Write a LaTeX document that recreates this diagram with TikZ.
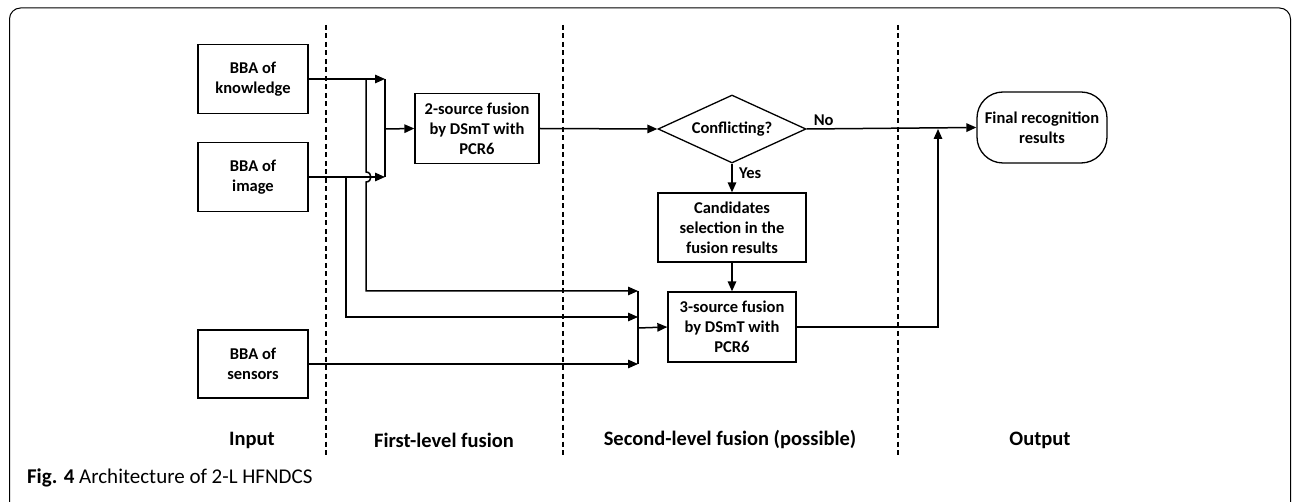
\documentclass[tikz,border=0pt]{standalone}
\usepackage{fontspec}
\setmainfont{Carlito}
\usetikzlibrary{arrows.meta,shapes.geometric}
\begin{document}
\begin{tikzpicture}[x=1pt,y=-1pt,
  line width=1.5pt,
  >={Triangle[length=10pt,width=8.5pt]},
  box/.style={draw,line width=1.3pt,align=center,font=\fontsize{16.5}{20}\selectfont\bfseries,inner sep=0pt},
  sep/.style={line width=1.2pt,dash pattern=on 5pt off 3.5pt},
  lbl/.style={font=\fontsize{20.5}{24}\selectfont\bfseries},
  small/.style={font=\fontsize{16.5}{18}\selectfont\bfseries}]
\useasboundingbox (0,0) rectangle (1292,502);
% frame
\draw[line width=1pt,rounded corners=11pt] (9.5,510) -- (9.5,8) -- (1290.5,8) -- (1290.5,510);
% separators
\draw[sep] (326,25) -- (326,457);
\draw[sep] (563,25) -- (563,457);
\draw[sep] (898,25) -- (898,457);
% boxes
\node[box,minimum width=110pt,minimum height=69pt] (kn) at (253,79) {BBA of\\knowledge};
\node[box,minimum width=110pt,minimum height=69pt] (im) at (253,177) {BBA of\\image};
\node[box,minimum width=110pt,minimum height=68pt] (se) at (253,364) {BBA of\\sensors};
\node[box,minimum width=124pt,minimum height=70pt] (two) at (477,128.5) {2-source fusion\\by DSmT with\\PCR6};
\node[draw,line width=1.3pt,diamond,aspect=2.18,minimum width=148pt,minimum height=68pt,inner sep=0pt,font=\fontsize{16.5}{18}\selectfont\bfseries] (dia) at (732,129) {Conflicting?};
\node[box,minimum width=148pt,minimum height=69pt] (cand) at (732,227.5) {Candidates\\selection in the\\fusion results};
\node[box,minimum width=128pt,minimum height=70pt] (three) at (732,327) {3-source fusion\\by DSmT with\\PCR6};
\node[box,rounded corners=26pt,minimum width=130pt,minimum height=71pt] (fin) at (1042,127.5) {Final recognition\\results};
% junction coordinates
\coordinate (barA) at (385,129);
\coordinate (barB) at (638,328);
% first-level inputs
\draw[->] (kn.east) -- (385,79);
\draw[->] (im.east) -- (385,177);
\draw (385,79) -- (385,177);
\draw[->] (barA) -- (two.west);
% second-level inputs
\draw[->] (366,79) -- (366,172) .. controls (372.5,172) and (372.5,182) .. (366,182) -- (366,291) -- (638,291);
\draw[->] (346,177) -- (346,317) -- (638,317);
\draw[->] (se.east) -- (638,364);
\draw (638,291) -- (638,364);
\draw[->] (barB) -- (three.west);
% decision
\draw[->] (two.east) -- (dia.west);
\draw[->] (dia.south) -- node[right,small,xshift=3pt,pos=0.35]{Yes} (cand.north);
\draw[->] (cand.south) -- (three.north);
\draw[->] (dia.east) -- node[above,small,pos=0.1,yshift=-1pt]{No} (fin.west);
\draw[->] (three.east) -- (938,327) -- (938,129);
% labels
\node[lbl] (l1) at (252,440) {Input};
\node[lbl] (l2) at (444,440) {First-level fusion};
\node[lbl] (l3) at (730,440) {Second-level fusion (possible)};
\node[lbl] (l4) at (1040,440) {Output};
\node[anchor=west,font=\fontsize{21}{24}\selectfont] (cap) at (23,478) {\textbf{Fig. 4} Architecture of 2-L HFNDCS};
\end{tikzpicture}
\end{document}
